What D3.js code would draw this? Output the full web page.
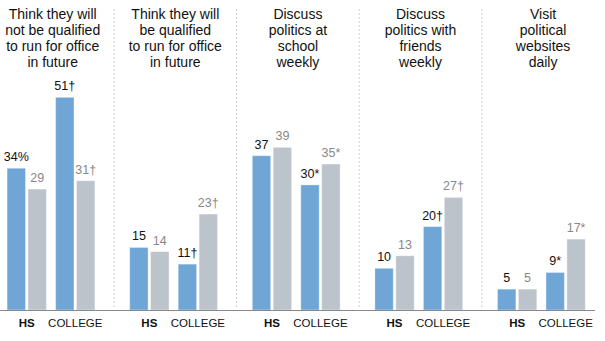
<!DOCTYPE html>
<html>
<head>
<meta charset="utf-8">
<script src="https://cdn.jsdelivr.net/npm/d3@7"></script>
<style>
  html, body { margin: 0; padding: 0; background: #fff; }
  svg { display: block; }
  text { font-family: Arial, "Liberation Sans", sans-serif; }
</style>
</head>
<body>
<svg id="chart" width="605" height="341"></svg>
<script>
// ---- data ----
const panels = [
  ["Think they will", "not be qualified", "to run for office", "in future"],
  ["Think they will", "be qualified", "to run for office", "in future"],
  ["Discuss", "politics at", "school", "weekly"],
  ["Discuss", "politics with", "friends", "weekly"],
  ["Visit", "political", "websites", "daily"]
];
const groups = ["HS", "COLLEGE"];
const hsBlue = [34, 15, 37, 10, 5];
const hsGray = [29, 14, 39, 13, 5];
const collegeBlue = [51, 11, 30, 20, 9];
const collegeGray = [31, 23, 35, 27, 17];
const hsBlueLabels = ["34%", "15", "37", "10", "5"];
const hsGrayLabels = ["29", "14", "39", "13", "5"];
const collegeBlueLabels = ["51\u2020", "11\u2020", "30*", "20\u2020", "9*"];
const collegeGrayLabels = ["31\u2020", "23\u2020", "35*", "27\u2020", "17*"];

// ---- build rows ----
const rows = [];
panels.forEach((p, i) => {
  rows.push({panel: i, group: "HS", series: "blue", value: hsBlue[i], label: hsBlueLabels[i]});
  rows.push({panel: i, group: "HS", series: "gray", value: hsGray[i], label: hsGrayLabels[i]});
  rows.push({panel: i, group: "COLLEGE", series: "blue", value: collegeBlue[i], label: collegeBlueLabels[i]});
  rows.push({panel: i, group: "COLLEGE", series: "gray", value: collegeGray[i], label: collegeGrayLabels[i]});
});

const svg = d3.select("#chart");
const baseline = 310;
const panelStep = 122.6;
const x0 = d3.scaleBand().domain(d3.range(panels.length))
  .range([-8.6, -8.6 + panelStep * panels.length]).padding(0);
const x1 = d3.scaleBand().domain(groups).range([15.7, 103.5]).paddingInner(0.19);
const x2 = d3.scaleBand().domain(["blue", "gray"]).range([0, x1.bandwidth()]).paddingInner(0.12);
const y = d3.scaleLinear().domain([0, 60]).range([baseline, baseline - 60 * 4.17]);

const color = {blue: "#6fa6d6", gray: "#bcc3cb"};
const labelColor = {blue: "#111", gray: "#888"};

// dividers
svg.append("g").selectAll("line")
  .data(d3.range(1, panels.length))
  .join("line")
  .attr("x1", d => x0(d)).attr("x2", d => x0(d))
  .attr("y1", 9).attr("y2", 307)
  .attr("stroke", "#cfcfcf").attr("stroke-width", 1)
  .attr("stroke-dasharray", "2,2");

// titles
const titles = svg.append("g").selectAll("text")
  .data(panels)
  .join("text")
  .attr("text-anchor", "middle")
  .attr("font-size", 14)
  .attr("fill", "#111")
  .attr("x", (d, i) => x0(i) + x0.bandwidth() / 2)
  .attr("y", 19);
titles.selectAll("tspan")
  .data(d => d)
  .join("tspan")
  .attr("x", function() { return d3.select(this.parentNode).attr("x"); })
  .attr("dy", (d, i) => i === 0 ? 0 : 16)
  .text(d => d);

// bars
const bx = d => x0(d.panel) + x1(d.group) + x2(d.series);
svg.append("g").selectAll("rect")
  .data(rows)
  .join("rect")
  .attr("x", bx)
  .attr("y", d => y(d.value))
  .attr("width", x2.bandwidth())
  .attr("height", d => y(0) - y(d.value))
  .attr("fill", d => color[d.series])
  .attr("stroke", "#fff").attr("stroke-opacity", 0.35).attr("stroke-width", 1);

// value labels
svg.append("g").selectAll("text")
  .data(rows)
  .join("text")
  .attr("x", d => bx(d) + x2.bandwidth() / 2)
  .attr("y", d => y(d.value) - 7)
  .attr("text-anchor", "middle")
  .attr("font-size", 12.5)
  .attr("fill", d => labelColor[d.series])
  .text(d => d.label);

// baseline
svg.append("line")
  .attr("x1", 0).attr("x2", 595)
  .attr("y1", baseline + 0.5).attr("y2", baseline + 0.5)
  .attr("stroke", "#888").attr("stroke-width", 1.2);

// group labels (axis)
panels.forEach((p, i) => {
  const ax = d3.axisBottom(d3.scaleBand().domain(groups)
      .range([x0(i) + x1.range()[0], x0(i) + x1.range()[1]]).paddingInner(0.19))
    .tickSize(0).tickPadding(0);
  const g = svg.append("g").attr("transform", `translate(0,${baseline})`).call(ax);
  g.select(".domain").remove();
  g.selectAll("text")
    .attr("y", 17).attr("dy", 0)
    .attr("font-size", 11.5)
    .attr("font-family", "Arial, 'Liberation Sans', sans-serif")
    .attr("fill", "#111")
    .attr("font-weight", d => d === "HS" ? "bold" : "normal");
});
</script>
</body>
</html>
